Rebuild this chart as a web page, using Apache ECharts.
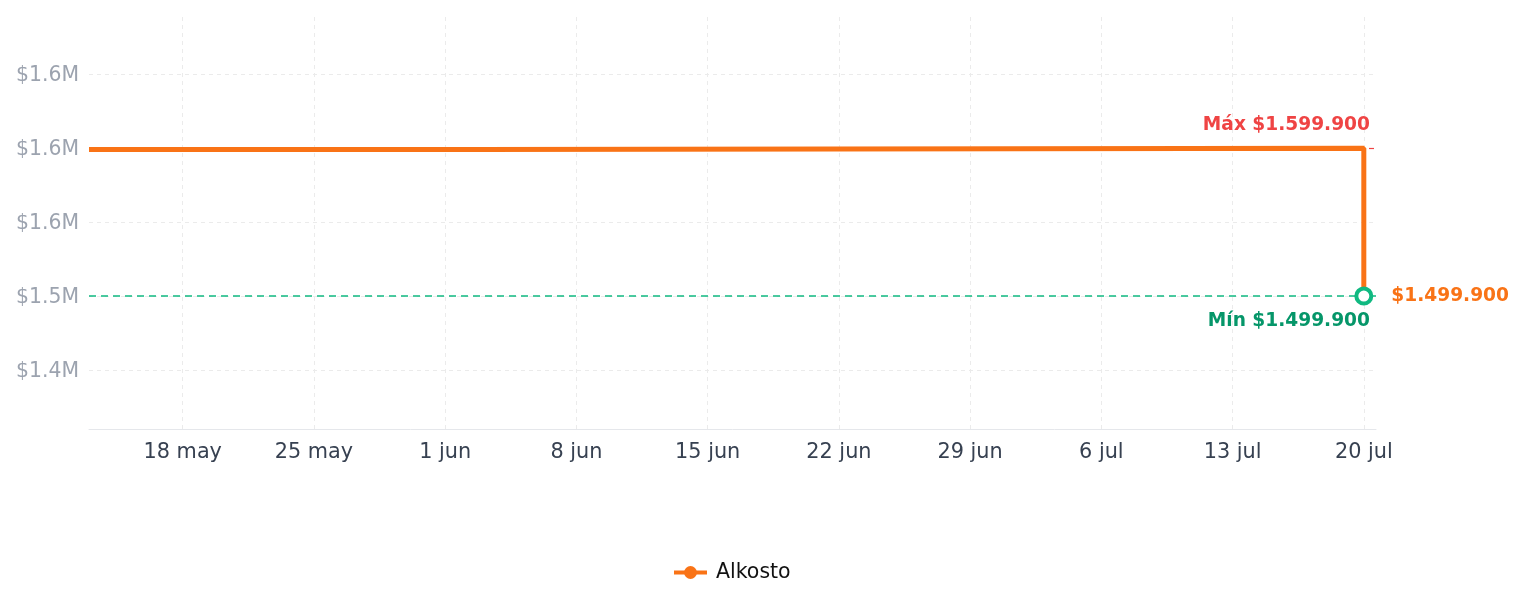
<!DOCTYPE html>
<html>
<head>
<meta charset="utf-8">
<script src="https://cdn.jsdelivr.net/npm/echarts@6/dist/echarts.min.js"></script>
<style>
  html, body { margin: 0; padding: 0; background: #fff; }
  #chart { width: 1524px; height: 607px; }
</style>
</head>
<body>
<div id="chart"></div>
<script>
// datos del historial de precio (puntos donde cambia el precio)
const dates = ['2025-05-13', '2025-06-03', '2025-07-20'];
const prices = [1599000, 1599900, 1499900];
const storeName = 'Alkosto';

// marcas de los ejes
const xTickDates = ['2025-05-18', '2025-05-25', '2025-06-01', '2025-06-08', '2025-06-15',
                    '2025-06-22', '2025-06-29', '2025-07-06', '2025-07-13', '2025-07-20'];
const yTicks = [1450000, 1500000, 1550000, 1600000, 1650000];
const monthNames = ['ene', 'feb', 'mar', 'abr', 'may', 'jun', 'jul', 'ago', 'sep', 'oct', 'nov', 'dic'];

const DAY = 86400000;
function ts(s) {
    const p = s.split('-').map(Number);
    return Date.UTC(p[0], p[1] - 1, p[2]);
}
function money(v) {
    return '$' + String(v).replace(/\B(?=(\d{3})+(?!\d))/g, '.');
}

const xTicks = xTickDates.map(ts);
const seriesData = dates.map((d, i) => [ts(d), prices[i]]);
const maxPrice = Math.max(...prices);
const minPrice = Math.min(...prices);
const last = seriesData[seriesData.length - 1];

const chart = echarts.init(document.getElementById('chart'));

const gridLine = { color: '#ebebeb', type: [4, 4], width: 1 };

const option = {
    animation: false,
    textStyle: { fontFamily: 'DejaVu Sans' },
    grid: { left: 89, right: 148, top: 15, bottom: 178 },
    legend: {
        data: [storeName],
        left: 667,
        top: 557,
        itemWidth: 33,
        itemHeight: 16,
        lineStyle: { width: 4 },
        textStyle: { color: '#111', fontSize: 20.5, padding: [0, 0, 0, 4] }
    },
    xAxis: {
        type: 'value',
        min: ts('2025-05-13'),
        max: ts('2025-07-20') + 0.65 * DAY,
        axisLine: { show: true, lineStyle: { color: '#e5e7eb', width: 1 } },
        axisTick: { show: false, customValues: xTicks },
        splitLine: { show: false },
        axisLabel: {
            customValues: xTicks,
            color: '#374151',
            fontSize: 20.8,
            margin: 13,
            formatter: v => {
                const d = new Date(v);
                return d.getUTCDate() + ' ' + monthNames[d.getUTCMonth()];
            }
        }
    },
    yAxis: {
        type: 'value',
        min: 1410000,
        max: 1690000,
        axisLine: { show: false },
        axisTick: { show: false, customValues: yTicks },
        splitLine: { show: false },
        axisLabel: {
            customValues: yTicks,
            margin: 10,
            formatter: v => '{a|$' + (v / 1e6).toFixed(1) + 'M}',
            rich: {
                a: { color: '#9ca3af', fontSize: 20.4, padding: [4, 0, 0, 0] }
            }
        }
    },
    series: [
        {
            // líneas de cuadrícula punteadas
            name: 'grid',
            type: 'line',
            data: [],
            silent: true,
            markLine: {
                silent: true,
                symbol: 'none',
                z: 0,
                label: { show: false },
                lineStyle: gridLine,
                emphasis: { disabled: true },
                data: yTicks.map(v => ({ yAxis: v })).concat(xTicks.map(t => ({ xAxis: t })))
            }
        },
        {
            name: storeName,
            type: 'line',
            step: 'end',
            data: seriesData,
            symbol: 'circle',
            symbolSize: 12,
            showSymbol: false,
            itemStyle: { color: '#f97316' },
            lineStyle: { color: '#f97316', width: 5 },
            z: 3,
            markLine: {
                silent: true,
                symbol: 'none',
                z: 1,
                data: [
                    {
                        yAxis: maxPrice,
                        lineStyle: { color: '#ef4444', type: [5, 5], width: 1.2 },
                        label: {
                            show: true,
                            position: 'insideEndTop',
                            distance: [6, 14],
                            formatter: 'Máx ' + money(maxPrice),
                            color: '#ef4444',
                            fontSize: 18.6,
                            fontWeight: 'bold'
                        }
                    },
                    {
                        yAxis: minPrice,
                        lineStyle: { color: '#10b981', type: [7, 5], width: 1.5 },
                        label: {
                            show: true,
                            position: 'insideEndBottom',
                            distance: [6, 16],
                            formatter: 'Mín ' + money(minPrice),
                            color: '#059669',
                            fontSize: 18.6,
                            fontWeight: 'bold'
                        }
                    }
                ]
            }
        },
        {
            // punto del precio actual
            name: 'actual',
            type: 'scatter',
            data: [last],
            symbol: 'circle',
            symbolSize: 15,
            z: 5,
            itemStyle: { color: '#fff', borderColor: '#10b981', borderWidth: 4, opacity: 1 },
            label: {
                show: true,
                position: 'right',
                distance: 18,
                formatter: p => money(p.value[1]),
                color: '#f97316',
                fontSize: 18.6,
                fontWeight: 'bold'
            }
        }
    ]
};

chart.setOption(option);
</script>
</body>
</html>
